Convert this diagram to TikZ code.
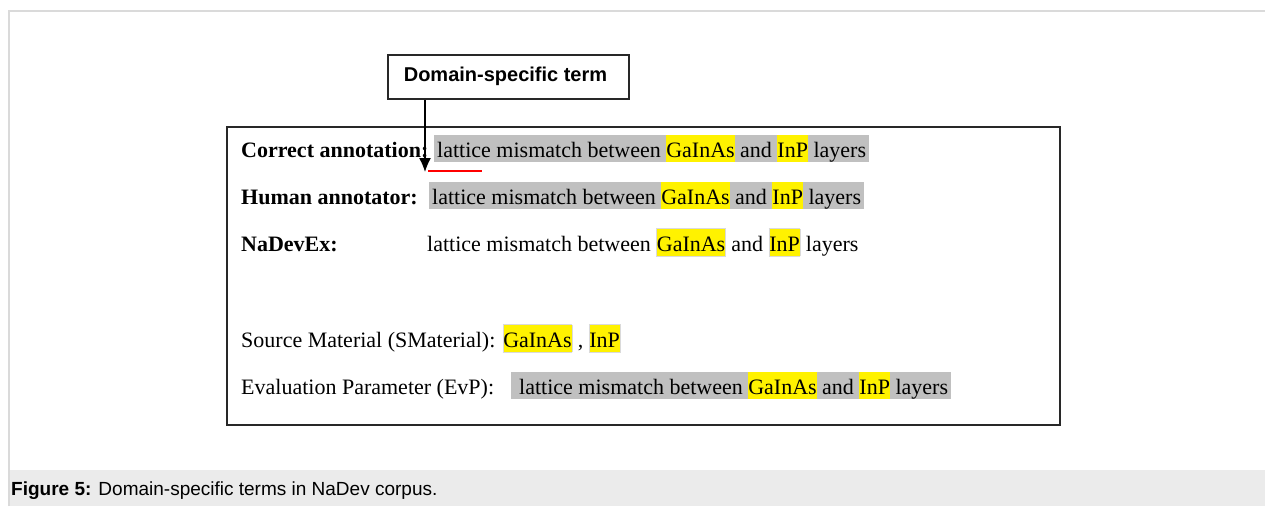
\documentclass[tikz,border=0pt]{standalone}
\usepackage{fontspec}
\setmainfont{Liberation Serif}
\setsansfont{Liberation Sans}
\usetikzlibrary{arrows.meta,positioning}
\definecolor{hlgray}{RGB}{192,192,192}
\definecolor{capgray}{RGB}{235,235,235}
\definecolor{edgegray}{RGB}{218,218,218}
\definecolor{boxline}{RGB}{40,40,40}
\newcommand{\hlstrut}{\rule[-5pt]{0pt}{27pt}}
\newcommand{\term}[1]{{\setlength{\fboxsep}{0pt}\colorbox{yellow}{\hlstrut#1}}}
\newcommand{\boxterm}[1]{{\setlength{\fboxsep}{0pt}\setlength{\fboxrule}{0.6pt}\fcolorbox{edgegray}{yellow}{\hlstrut#1}}}
\tikzset{
  rowtext/.style={anchor=base west, inner sep=0pt, font=\fontsize{22}{26}\selectfont},
  phrase/.style={rowtext, fill=hlgray, inner xsep=3pt, text height=22pt, text depth=5pt},
  labeltext/.style={rowtext, font=\fontsize{22}{26}\selectfont\bfseries}
}

\begin{document}
\begin{tikzpicture}[x=1pt,y=-1pt]
   \useasboundingbox (0,0) rectangle (1265,506);
   \fill[capgray] (10,470) rectangle (1265,506);
   \draw[edgegray, line width=1.5pt] (9,506) |- (1265,11);

   \node[draw=boxline, line width=1.8pt, minimum width=833, minimum height=298] (frame) at (643.5,276) {};
   \node[draw=boxline, line width=1.8pt, minimum width=241, minimum height=44] (term) at (508.5,77) {};
   \node[font=\sffamily\bfseries\fontsize{20}{24}\selectfont] (termtext) at (505.5,76) {Domain-specific term};

   \node[labeltext] (correct) at (241,157) {Correct annotation:};
   \node[phrase] (correctp) at (434,157) {lattice mismatch between \term{GaInAs} and \term{InP} layers};
   \node[labeltext] (human) at (241,204) {Human annotator:};
   \node[phrase] (humanp) at (429,204) {lattice mismatch between \term{GaInAs} and \term{InP} layers};
   \node[labeltext] (nadevex) at (241,251) {NaDevEx:};
   \node[rowtext] (nadevexp) at (427,251) {lattice mismatch between \boxterm{GaInAs} and \boxterm{InP} layers};

   \node[rowtext] (smat) at (241,347) {Source Material (SMaterial): \boxterm{GaInAs} , \boxterm{InP}};
   \node[rowtext] (evp) at (241,394) {Evaluation Parameter (EvP):};
   \node[phrase] (evpp) at (511,394) {\hspace{5pt}lattice mismatch between \term{GaInAs} and \term{InP} layers};

   \draw[red, line width=2.5pt] (428,171) -- (482,171);
   \coordinate (tip) at (425,172);
   \draw[-{Latex[length=14pt,width=12pt]}, line width=1.3pt] (term.south -| tip) -- (tip);

   \node[anchor=base west, inner sep=0pt, font=\sffamily\fontsize{19}{22}\selectfont] (caption) at (11,495)
        {\textbf{Figure 5:} Domain-specific terms in NaDev corpus.};
\end{tikzpicture}
\end{document}
